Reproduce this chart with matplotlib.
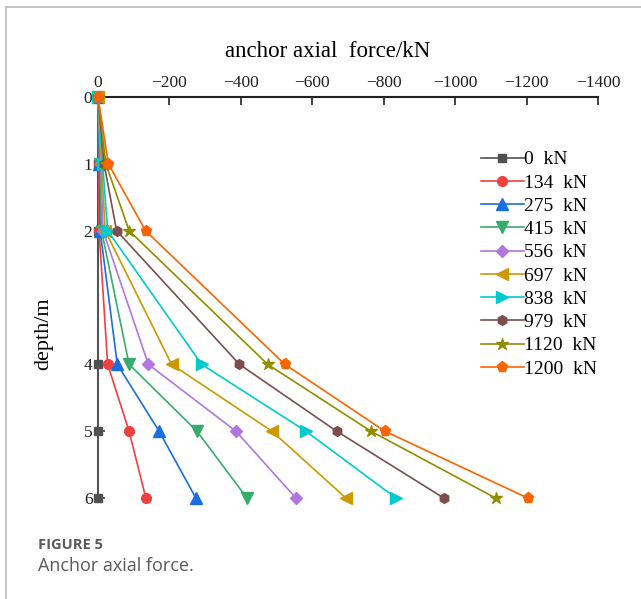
import matplotlib.pyplot as plt
from matplotlib.lines import Line2D

# depth (m) and axial force (kN, compression negative) for each anchor load
profundidade = [0, 1, 2, 4, 5, 6]
cargas = ["0  kN", "134  kN", "275  kN", "415  kN", "556  kN",
          "697  kN", "838  kN", "979  kN", "1120  kN", "1200  kN"]
f_0 = [0, 0, 0, 0, 0, 0]
f_134 = [0, -2, -3, -27, -87, -134]
f_275 = [0, -4, -6, -54, -171, -274]
f_415 = [0, -6, -10, -87, -277, -417]
f_556 = [0, -8, -14, -141, -386, -554]
f_697 = [0, -10, -20, -206, -487, -694]
f_838 = [0, -13, -27, -290, -582, -834]
f_979 = [0, -17, -52, -396, -668, -968]
f_1120 = [0, -22, -87, -475, -764, -1113]
f_1200 = [0, -29, -133, -523, -803, -1203]
x_ticks = [0, -200, -400, -600, -800, -1000, -1200, -1400]

series = [f_0, f_134, f_275, f_415, f_556, f_697, f_838, f_979, f_1120, f_1200]
cores = ["#515151", "#F14040", "#1A6FDF", "#37AD6B", "#B177DE",
         "#CC9900", "#00CBCC", "#7D4E4E", "#8E8E00", "#FB6501"]
marcadores = ["s", "o", "^", "v", "D", "<", ">", "h", "*", "p"]
tamanhos = [6, 7, 8, 8, 6, 8, 8, 7, 9, 8]

serif = ["Liberation Serif", "DejaVu Serif"]

fig = plt.figure(figsize=(6.41, 5.99), dpi=100)

# card border (left and top)
fig.add_artist(Line2D([6 / 641, 6 / 641], [0, 1 - 7 / 599], color="#bbbbbb", lw=1.2))
fig.add_artist(Line2D([6 / 641, 1], [1 - 7 / 599, 1 - 7 / 599], color="#bbbbbb", lw=1.2))

ax = fig.add_axes([98 / 641, 1 - 498 / 599, 500 / 641, 401 / 599])

for vals, lab, c, m, s in zip(series, cargas, cores, marcadores, tamanhos):
    ax.plot(vals, profundidade, color=c, marker=m, markersize=s, lw=1.2,
            label=lab, clip_on=False, zorder=3)

ax.set_xlim(0, -1400)
ax.set_ylim(6, 0)
ax.xaxis.tick_top()
ax.xaxis.set_label_position("top")
ax.set_xticks(x_ticks)
ax.set_yticks(profundidade)
ax.tick_params(axis="x", direction="in", length=6, width=1.2, colors="#222222",
               labelsize=12.5, pad=4)
ax.tick_params(axis="y", direction="in", length=5, width=1.2, colors="#444444",
               labelsize=12.5, pad=4)
for lbl in ax.get_xticklabels() + ax.get_yticklabels():
    lbl.set_family(serif)
    lbl.set_color("#222222")

ax.spines["bottom"].set_visible(False)
ax.spines["right"].set_visible(False)
ax.spines["top"].set_color("#222222")
ax.spines["top"].set_linewidth(1.5)
ax.spines["left"].set_color("#666666")
ax.spines["left"].set_linewidth(1.5)

ax.set_xlabel("anchor axial  force/kN", family=serif, fontsize=16.5, labelpad=13)
ax.xaxis.label.set_x(0.46)
ax.set_ylabel("depth/m", family=serif, fontsize=16)
ax.yaxis.set_label_coords(-0.09, 0.41)

leg = ax.legend(loc="upper left", bbox_to_anchor=(0.746, 0.89), frameon=False,
                prop={"family": serif, "size": 14}, handlelength=2.2,
                handletextpad=0.0, labelspacing=0.29, borderpad=0)

fig.text(38 / 641, 1 - 545 / 599, "FIGURE 5", fontsize=10.5, fontweight="bold",
         color="#5a5a5a", family="Open Sans", va="center")
fig.text(38 / 641, 1 - 566 / 599, "Anchor axial force.", fontsize=13,
         color="#5a5a5a", family="Open Sans", va="center")

fig.savefig("out.png", dpi=100)
